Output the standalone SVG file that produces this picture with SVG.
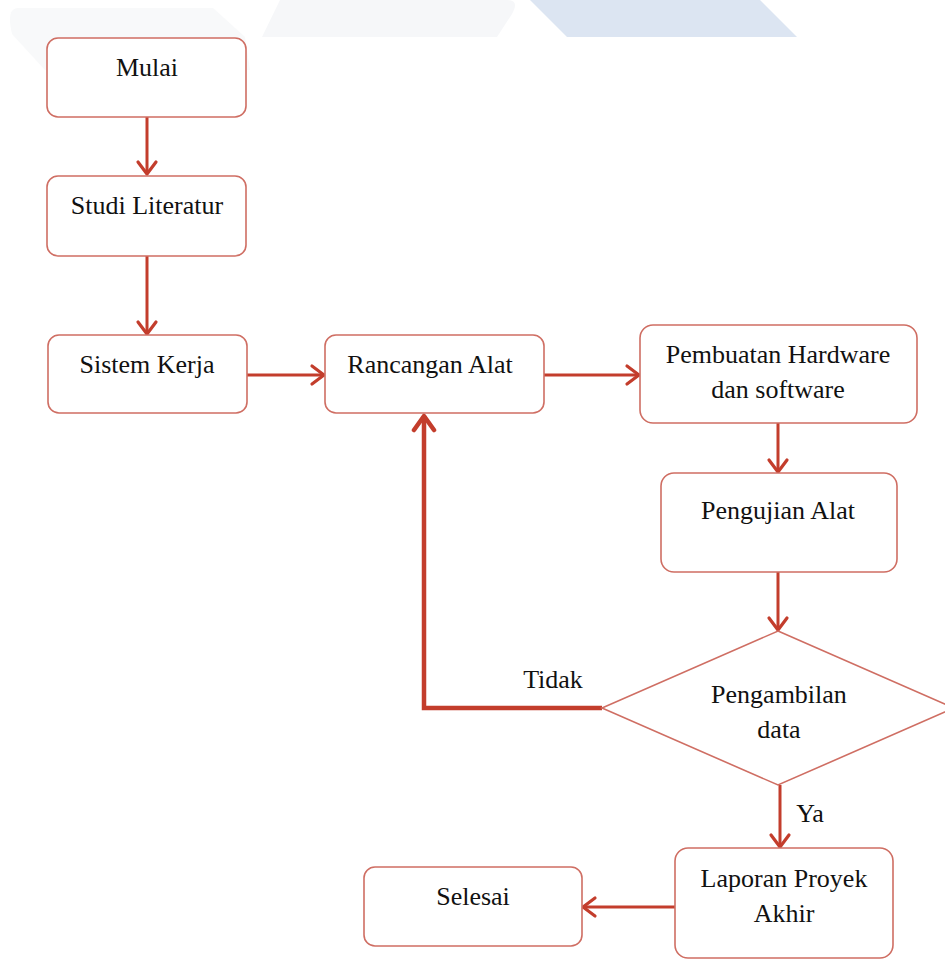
<svg xmlns="http://www.w3.org/2000/svg" width="945" height="959" viewBox="0 0 945 959">
<style>
.box{fill:#ffffff;stroke:#cf6e63;stroke-width:1.6}
.lbl{font-family:"Liberation Serif","Times New Roman",serif;font-size:26px;fill:#111111;text-anchor:middle}
.edge{fill:none;stroke:#c33d2c;stroke-width:3}
.thick{fill:none;stroke:#c33d2c;stroke-width:4.5}
</style>
<defs>
<marker id="arr" viewBox="-16 -12 20 24" refX="0" refY="0" markerWidth="20" markerHeight="24" markerUnits="userSpaceOnUse" orient="auto">
<path d="M-12,-9 L0,0 L-12,9" fill="none" stroke="#c33d2c" stroke-width="3.2" stroke-linecap="round" stroke-linejoin="round"/>
</marker>
<marker id="arrB" viewBox="-18 -13 22 26" refX="0" refY="0" markerWidth="22" markerHeight="26" markerUnits="userSpaceOnUse" orient="auto">
<path d="M-14,-10 L0,0 L-14,10" fill="none" stroke="#c33d2c" stroke-width="4.5" stroke-linecap="round" stroke-linejoin="round"/>
</marker>
</defs>
<rect width="945" height="959" fill="#ffffff"/>
<g id="background">
<path d="M18,8 L213,8 L245,37 L250,70 L45,70 L12,34 Q6,8 18,8 Z" fill="#f8f9fa"/>
<path d="M280,0 L507,0 Q520,0 512,14 L497,37 L262,37 Z" fill="#f6f7f9"/>
<path d="M530,0 L760,0 L797,37 L567,37 Z" fill="#dce5f2"/>
</g>
<g id="connectors">
<line class="edge" x1="147" y1="117" x2="147" y2="174" marker-end="url(#arr)"/>
<line class="edge" x1="147" y1="256" x2="147" y2="334" marker-end="url(#arr)"/>
<line class="edge" x1="247" y1="375" x2="324" y2="375" marker-end="url(#arr)"/>
<line class="edge" x1="544" y1="375" x2="639" y2="375" marker-end="url(#arr)"/>
<line class="edge" x1="778" y1="423" x2="778" y2="472" marker-end="url(#arr)"/>
<line class="edge" x1="778" y1="572" x2="778" y2="630" marker-end="url(#arr)"/>
<polyline class="thick" points="602,708 424,708 424,416" marker-end="url(#arrB)"/>
<line class="edge" x1="780" y1="785" x2="780" y2="847" marker-end="url(#arr)"/>
<line class="edge" x1="675" y1="907" x2="583" y2="907" marker-end="url(#arr)"/>
<text class="lbl" x="553" y="688">Tidak</text>
<text class="lbl" x="810" y="822">Ya</text>
</g>
<g id="mulai">
<rect class="box" x="47" y="38" width="199" height="79" rx="11"/>
<text class="lbl" x="147" y="76">Mulai</text>
</g>
<g id="studi-literatur">
<rect class="box" x="47" y="176" width="199" height="80" rx="11"/>
<text class="lbl" x="147" y="214">Studi Literatur</text>
</g>
<g id="sistem-kerja">
<rect class="box" x="48" y="335" width="199" height="78" rx="11"/>
<text class="lbl" x="147" y="373">Sistem Kerja</text>
</g>
<g id="rancangan-alat">
<rect class="box" x="325" y="335" width="219" height="78" rx="11"/>
<text class="lbl" x="430" y="373">Rancangan Alat</text>
</g>
<g id="pembuatan">
<rect class="box" x="640" y="325" width="277" height="98" rx="13"/>
<text class="lbl" x="778" y="363">Pembuatan Hardware</text>
<text class="lbl" x="778" y="398">dan software</text>
</g>
<g id="pengujian-alat">
<rect class="box" x="661" y="473" width="236" height="99" rx="13"/>
<text class="lbl" x="778" y="519">Pengujian Alat</text>
</g>
<g id="pengambilan-data">
<polygon class="box" points="778,631 954,708 778,785 602,708"/>
<text class="lbl" x="779" y="703">Pengambilan</text>
<text class="lbl" x="779" y="738">data</text>
</g>
<g id="laporan">
<rect class="box" x="675" y="848" width="218" height="110" rx="13"/>
<text class="lbl" x="784" y="887">Laporan Proyek</text>
<text class="lbl" x="784" y="922">Akhir</text>
</g>
<g id="selesai">
<rect class="box" x="364" y="867" width="218" height="79" rx="11"/>
<text class="lbl" x="473" y="905">Selesai</text>
</g>
</svg>
